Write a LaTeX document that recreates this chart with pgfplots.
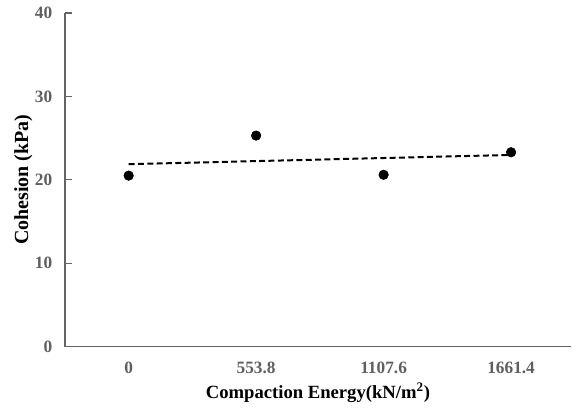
\documentclass[border=0pt]{standalone}
\usepackage{fontspec}
\setmainfont{Liberation Serif}
\usepackage{pgfplots}
\pgfplotsset{compat=1.18}
\definecolor{axgray}{RGB}{100,100,100}
\definecolor{ticktext}{RGB}{95,95,95}
\begin{document}
\begin{tikzpicture}
\begin{axis}[
    scale only axis,
    width=380pt, height=250.5pt,
    xmin=-0.5, xmax=3.47,
    ymin=0, ymax=40,
    ytick={0,10,20,30,40},
    xtick={0,1,2,3},
    xticklabels={0,553.8,1107.6,1661.4},
    axis line style={draw=none},
    ytick pos=left,
    xtick pos=bottom,
    tick align=inside,
    x tick style={draw=none},
    y tick style={axgray, line width=0.9pt},
    major tick length=5pt,
    tick label style={font=\fontsize{13}{15}\selectfont\bfseries, text=ticktext},
    /pgf/number format/assume math mode=true,
    xticklabel style={yshift=-8pt},
    yticklabel style={xshift=-6pt},
    xlabel={Compaction Energy(kN/m\textsuperscript{2})},
    ylabel={Cohesion (kPa)},
    xlabel style={font=\fontsize{14}{16}\selectfont\bfseries, yshift=0pt},
    ylabel style={font=\fontsize{15}{17}\selectfont\bfseries, yshift=-5pt},
    clip=false,
]
\addplot[only marks, mark=*, mark size=3.6pt, black] coordinates {
    (0,20.5) (1,25.3) (2,20.6) (3,23.3)
};
\addplot[black, line width=1.5pt, dash pattern=on 4.5pt off 2.5pt] coordinates {
    (0,21.87) (3,22.98)
};
\draw[axgray, line width=0.9pt] (rel axis cs:0,1) -- (rel axis cs:0,0) -- (rel axis cs:1,0);
\path (rel axis cs:0,0) ++(-48.75pt,-45.75pt) coordinate (bl);
\path (rel axis cs:1,1) ++(0.75pt,9.75pt) coordinate (tr);
\path (bl) (tr);
\end{axis}
\end{tikzpicture}
\end{document}
